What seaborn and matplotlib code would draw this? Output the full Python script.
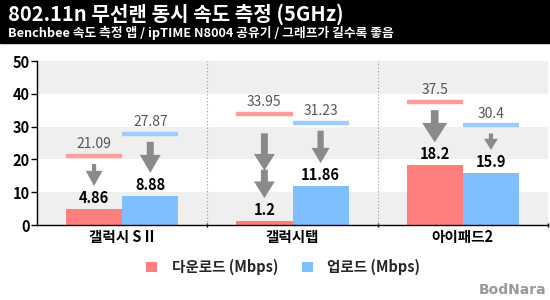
import matplotlib
matplotlib.use("Agg")
import matplotlib.pyplot as plt
import seaborn as sns
import pandas as pd
import numpy as np
from matplotlib.patches import Rectangle

# ---- data ----
categories = ["갤럭시 S II", "갤럭시탭", "아이패드2"]
series_names = ["다운로드 (Mbps)", "업로드 (Mbps)"]
download = [4.86, 1.2, 18.2]
upload = [8.88, 11.86, 15.9]
download_ref = [21.09, 33.95, 37.5]
upload_ref = [27.87, 31.23, 30.4]
title = "802.11n 무선랜 동시 속도 측정 (5GHz)"
subtitle = "Benchbee 속도 측정 앱 / ipTIME N8004 공유기 / 그래프가 길수록 좋음"
y_ticks = [0, 10, 20, 30, 40, 50]

# ---- styles ----
bar_colors = ["#ff7f7f", "#7fbfff"]
ref_colors = ["#ff9d9d", "#9dcdff"]
arrow_color = "#8a8a8a"
# (tail width, head width, head length) in points, per series per category
dl_arrow = [(3.0, 12, 11), (5.0, 15, 12), (5.5, 18, 14)]
ul_arrow = [(5.0, 15, 13), (4.5, 13, 11), (3.0, 10, 8)]
dl_double = [False, True, False]

sns.set_theme(style="white")
plt.rcParams["font.family"] = ["Noto Sans CJK KR", "DejaVu Sans"]

df = pd.DataFrame({
    "category": categories * 2,
    "series": [series_names[0]] * 3 + [series_names[1]] * 3,
    "value": download + upload,
})

fig = plt.figure(figsize=(5.5, 3.0), dpi=100)
fig.patch.set_facecolor("white")
ax = fig.add_axes([37 / 550, 1 - 225 / 300, (548 - 37) / 550, (225 - 61) / 300])

# background bands
for lo in (0, 20, 40):
    ax.axhspan(lo, lo + 10, color="#efefef", zorder=0, lw=0)

width = 0.66
sns.barplot(data=df, x="category", y="value", hue="series", order=categories,
            hue_order=series_names, palette=bar_colors, width=width, ax=ax,
            saturation=1, dodge=True, zorder=2, edgecolor="none", linewidth=0)

half = width / 2
xs = np.arange(len(categories))
offsets = [-half / 2, half / 2]
ref_sets = [download_ref, upload_ref]
val_sets = [download, upload]
arrow_sets = [dl_arrow, ul_arrow]
for s in range(2):
    for i, x in enumerate(xs):
        cx = x + offsets[s]
        ref = ref_sets[s][i]
        val = val_sets[s][i]
        ax.hlines(ref, cx - half / 2, cx + half / 2, color=ref_colors[s], lw=3.2, zorder=3)
        ax.text(cx, ref + 1.4, f"{ref:g}", ha="center", va="bottom", fontsize=10,
                color="#555555", zorder=4)
        ax.text(cx, val + 0.9, f"{val:g}", ha="center", va="bottom", fontsize=10.5,
                color="black", fontweight="bold", zorder=4)
        tw, hw, hl = arrow_sets[s][i]
        style = f"simple,head_length={hl},head_width={hw},tail_width={tw}"
        start = ref - 2.5
        end = val + 7.0
        if s == 0 and dl_double[i]:
            start = ref - 6.0
            mid = (start + end) / 2 - 1.5
            ax.annotate("", xy=(cx, mid), xytext=(cx, start),
                        arrowprops=dict(arrowstyle=style, color=arrow_color, lw=0,
                                        shrinkA=0, shrinkB=0, mutation_scale=1), zorder=3)
            ax.annotate("", xy=(cx, end), xytext=(cx, mid + 0.3),
                        arrowprops=dict(arrowstyle=style, color=arrow_color, lw=0,
                                        shrinkA=0, shrinkB=0, mutation_scale=1), zorder=3)
        else:
            ax.annotate("", xy=(cx, end), xytext=(cx, start),
                        arrowprops=dict(arrowstyle=style, color=arrow_color, lw=0,
                                        shrinkA=0, shrinkB=0, mutation_scale=1), zorder=3)

ax.set_xlim(-0.5, len(categories) - 0.5)
ax.set_ylim(0, 50)
ax.set_yticks(y_ticks)
ax.set_yticklabels([str(t) for t in y_ticks], fontsize=10.5, fontweight="bold", color="black")
ax.set_xticks(xs)
ax.set_xticklabels(categories, fontsize=10.5, fontweight="bold", color="black")
ax.tick_params(axis="x", length=0, pad=3)
ax.tick_params(axis="y", length=4, width=1, color="black", direction="out", pad=1, left=True)
ax.set_xticks(np.arange(len(categories)) + 0.5, minor=True)
ax.tick_params(axis="x", which="minor", length=3, color="black", direction="inout", bottom=True)
for b in np.arange(len(categories)) + 0.5:
    ax.axvline(b, color="#999999", lw=0.8, ls=(0, (1, 2)), zorder=1)
ax.set_xlabel("")
ax.set_ylabel("")
for sp in ["top", "right"]:
    ax.spines[sp].set_visible(False)
ax.spines["left"].set_color("black")
ax.spines["bottom"].set_color("black")
ax.spines["left"].set_linewidth(1)
ax.spines["bottom"].set_linewidth(1)

handles, labels = ax.get_legend_handles_labels()
if ax.legend_:
    ax.legend_.remove()
fig.legend(handles, labels, loc="center", bbox_to_anchor=(0.515, 0.11), ncol=2,
           frameon=False, handlelength=0.75, handleheight=0.75, columnspacing=1.6,
           handletextpad=1.0, prop={"size": 10.5, "weight": "bold"})

# header
fig.add_artist(Rectangle((0, 1 - 43 / 300), 1, 43 / 300, transform=fig.transFigure,
                         color="black", zorder=0))
fig.text(8 / 550, 1 - 14 / 300, title, color="white", fontsize=14.5, fontweight="bold",
         va="center", ha="left")
fig.text(8 / 550, 1 - 33 / 300, subtitle, color="white", fontsize=9.2, fontweight="bold",
         va="center", ha="left")
fig.text(546 / 550, 1 - 290 / 300, "BodNara", color="#999999", fontsize=10,
         fontweight="heavy", ha="right", va="center", family=["DejaVu Sans"])

fig.savefig("out.png", dpi=100)
